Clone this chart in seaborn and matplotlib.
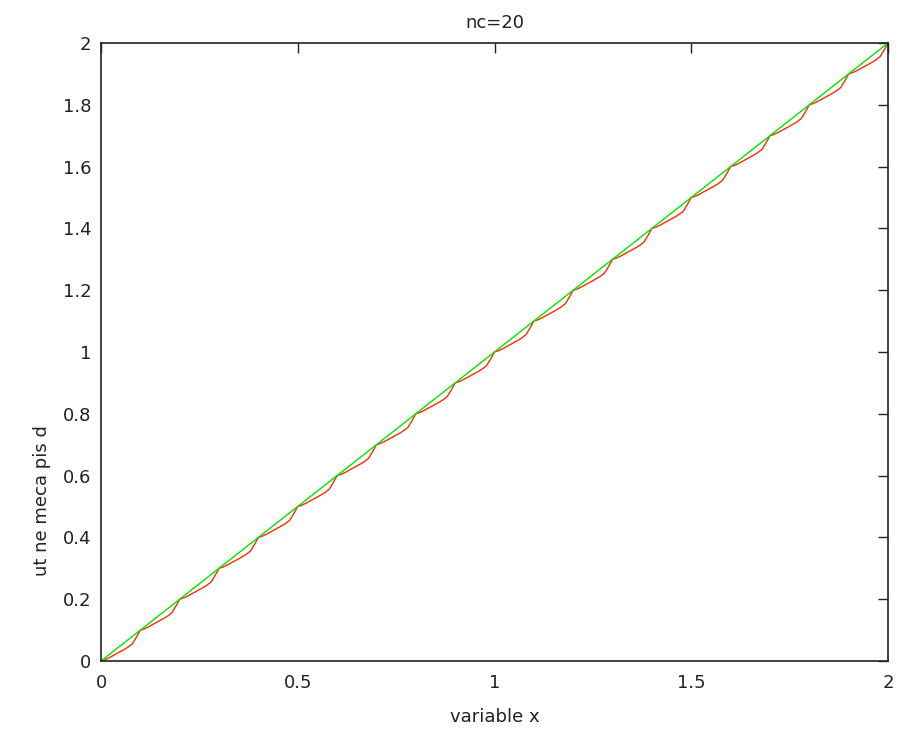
import numpy as np
import pandas as pd
import matplotlib
matplotlib.use("Agg")
import matplotlib.pyplot as plt
import seaborn as sns

# ==========================================
# data (nc=20)
# ==========================================
x_green = [0.0, 2.0]
y_green = [0.0, 2.0]

x_red = np.round(np.arange(0, 201) * 0.01, 2)
y_red = [
    0.000, 0.004, 0.010, 0.017, 0.024, 0.031, 0.038, 0.046, 0.056, 0.077,
    0.100, 0.104, 0.110, 0.117, 0.124, 0.131, 0.138, 0.146, 0.156, 0.177,
    0.200, 0.204, 0.210, 0.217, 0.224, 0.231, 0.238, 0.246, 0.256, 0.277,
    0.300, 0.304, 0.310, 0.317, 0.324, 0.331, 0.338, 0.346, 0.356, 0.377,
    0.400, 0.404, 0.410, 0.417, 0.424, 0.431, 0.438, 0.446, 0.456, 0.477,
    0.500, 0.504, 0.510, 0.517, 0.524, 0.531, 0.538, 0.546, 0.556, 0.577,
    0.600, 0.604, 0.610, 0.617, 0.624, 0.631, 0.638, 0.646, 0.656, 0.677,
    0.700, 0.704, 0.710, 0.717, 0.724, 0.731, 0.738, 0.746, 0.756, 0.777,
    0.800, 0.804, 0.810, 0.817, 0.824, 0.831, 0.838, 0.846, 0.856, 0.877,
    0.900, 0.904, 0.910, 0.917, 0.924, 0.931, 0.938, 0.946, 0.956, 0.977,
    1.000, 1.004, 1.010, 1.017, 1.024, 1.031, 1.038, 1.046, 1.056, 1.077,
    1.100, 1.104, 1.110, 1.117, 1.124, 1.131, 1.138, 1.146, 1.156, 1.177,
    1.200, 1.204, 1.210, 1.217, 1.224, 1.231, 1.238, 1.246, 1.256, 1.277,
    1.300, 1.304, 1.310, 1.317, 1.324, 1.331, 1.338, 1.346, 1.356, 1.377,
    1.400, 1.404, 1.410, 1.417, 1.424, 1.431, 1.438, 1.446, 1.456, 1.477,
    1.500, 1.504, 1.510, 1.517, 1.524, 1.531, 1.538, 1.546, 1.556, 1.577,
    1.600, 1.604, 1.610, 1.617, 1.624, 1.631, 1.638, 1.646, 1.656, 1.677,
    1.700, 1.704, 1.710, 1.717, 1.724, 1.731, 1.738, 1.746, 1.756, 1.777,
    1.800, 1.804, 1.810, 1.817, 1.824, 1.831, 1.838, 1.846, 1.856, 1.877,
    1.900, 1.904, 1.910, 1.917, 1.924, 1.931, 1.938, 1.946, 1.956, 1.977,
    2.000,
]

x_ticks = [0, 0.5, 1, 1.5, 2]
x_tick_labels = ["0", "0.5", "1", "1.5", "2"]
y_ticks = [0, 0.2, 0.4, 0.6, 0.8, 1, 1.2, 1.4, 1.6, 1.8, 2]
y_tick_labels = ["0", "0.2", "0.4", "0.6", "0.8", "1", "1.2", "1.4", "1.6", "1.8", "2"]

TITLE = "nc=20"
X_LABEL = "variable x"
Y_LABEL = "ut ne meca pis d"

red_df = pd.DataFrame({"x": x_red, "y": y_red})
green_df = pd.DataFrame({"x": x_green, "y": y_green})

# ==========================================
# plot
# ==========================================
sns.set_style("white")
plt.rcParams["font.family"] = ["DejaVu Sans"]

fig = plt.figure(figsize=(8.97, 7.32), dpi=100)
ax = fig.add_axes([101 / 897, 1 - 661 / 732, (888 - 101) / 897, (661 - 43) / 732])

sns.lineplot(data=red_df, x="x", y="y", color="#ff2a00", linewidth=1.0, ax=ax)
sns.lineplot(data=green_df, x="x", y="y", color="#00e600", linewidth=1.0, ax=ax)

ax.set_xlim(0, 2)
ax.set_ylim(0, 2)
ax.set_xticks(x_ticks)
ax.set_xticklabels(x_tick_labels)
ax.set_yticks(y_ticks)
ax.set_yticklabels(y_tick_labels)
ax.tick_params(direction="in", length=7, width=1, top=True, right=True,
               labelsize=13, colors="#222222", pad=7)
ax.tick_params(axis="x", pad=9)
for s in ax.spines.values():
    s.set_color("#222222")
    s.set_linewidth(1.2)

ax.set_title(TITLE, fontsize=13, pad=11, color="#222222")
ax.set_xlabel(X_LABEL, fontsize=13, labelpad=12, color="#222222")
ax.set_ylabel(Y_LABEL, fontsize=13, color="#222222")
ax.yaxis.set_label_coords(-0.064, 0.26)

fig.savefig("out.png", dpi=100, facecolor="white")
